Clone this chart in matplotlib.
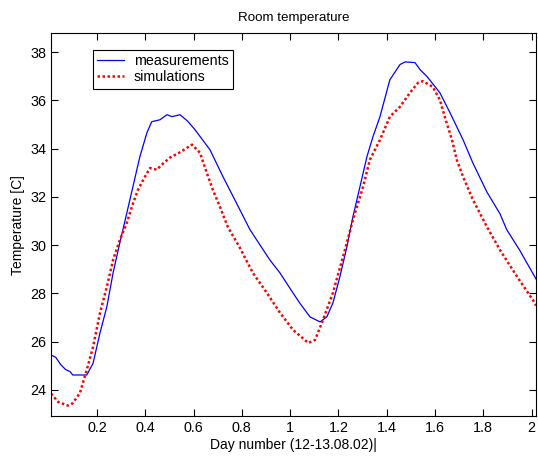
import matplotlib
matplotlib.use("Agg")
import matplotlib.pyplot as plt
from matplotlib.ticker import FormatStrFormatter

meas_day = [0.01, 0.03, 0.05, 0.07, 0.09, 0.10, 0.158, 0.184, 0.213, 0.241, 0.267, 0.295,
            0.324, 0.349, 0.378, 0.407, 0.427, 0.461, 0.49, 0.511, 0.544, 0.575, 0.606, 0.668,
            0.722, 0.765, 0.834, 0.916, 0.958, 1.012, 1.04, 1.082, 1.124, 1.152, 1.177, 1.206,
            1.235, 1.26, 1.289, 1.318, 1.343, 1.372, 1.413, 1.455, 1.476, 1.517, 1.538, 1.567,
            1.62, 1.662, 1.716, 1.757, 1.815, 1.869, 1.897, 1.95, 2.018]
meas_temp = [25.45, 25.35, 25.05, 24.85, 24.75, 24.62, 24.62, 25.1, 26.37, 27.44, 28.85, 30.1,
             31.34, 32.42, 33.67, 34.66, 35.12, 35.2, 35.41, 35.33, 35.41, 35.15, 34.79, 33.96,
             32.84, 32.0, 30.64, 29.39, 28.85, 28.02, 27.6, 27.03, 26.82, 27.03, 27.6, 28.69,
             29.93, 31.18, 32.42, 33.67, 34.5, 35.33, 36.86, 37.49, 37.6, 37.57, 37.28, 36.99,
             36.32, 35.49, 34.37, 33.4, 32.2, 31.3, 30.64, 29.8, 28.6]

# simulated room temperature
sim_day = [0.01, 0.04, 0.08, 0.10, 0.13, 0.158, 0.184, 0.213, 0.241, 0.267, 0.295, 0.324,
           0.345, 0.37, 0.399, 0.42, 0.448, 0.469, 0.502, 0.540, 0.594, 0.627, 0.655, 0.68,
           0.709, 0.742, 0.79, 0.846, 0.904, 0.958, 1.012, 1.075, 1.103, 1.136, 1.177, 1.219,
           1.26, 1.302, 1.33, 1.372, 1.413, 1.455, 1.496, 1.53, 1.55, 1.59, 1.62, 1.64, 1.67,
           1.69, 1.716, 1.757, 1.815, 1.869, 1.94, 2.005, 2.018]
sim_temp = [23.85, 23.5, 23.35, 23.45, 23.88, 24.83, 25.78, 27.2, 28.27, 29.39, 30.22, 30.93,
            31.6, 32.3, 32.84, 33.2, 33.13, 33.34, 33.63, 33.83, 34.17, 33.83, 33.0, 32.3,
            31.6, 30.76, 29.93, 28.85, 28.02, 27.2, 26.49, 25.95, 26.07, 26.9, 28.02, 29.52,
            31.05, 32.42, 33.54, 34.37, 35.33, 35.74, 36.32, 36.74, 36.8, 36.57, 36.03, 35.33, 34.37,
            33.54, 32.84, 31.88, 30.76, 29.8, 28.69, 27.73, 27.5]

x_ticks = [0.2, 0.4, 0.6, 0.8, 1.0, 1.2, 1.4, 1.6, 1.8, 2.0]
y_ticks = [24, 26, 28, 30, 32, 34, 36, 38]

plt.rcParams["font.family"] = ["Liberation Sans", "DejaVu Sans"]

fig = plt.figure(figsize=(5.38, 4.59), dpi=100)
ax = fig.add_axes([0.0948, 0.0937, 0.9015, 0.834])

ax.plot(meas_day, meas_temp, color="#0000ff", lw=0.9, label="measurements")
ax.plot(sim_day, sim_temp, color="#ff0000", lw=1.8, ls=(0, (1, 1)), label="simulations")

ax.set_xlim(0.01, 2.018)
ax.set_ylim(22.92, 38.79)
ax.set_xticks(x_ticks)
ax.set_yticks(y_ticks)
ax.xaxis.set_major_formatter(FormatStrFormatter("%g"))
ax.tick_params(direction="in", top=True, right=True, length=5, width=0.8, labelsize=10.4)
for s in ax.spines.values():
    s.set_linewidth(0.8)

ax.set_title("Room temperature", fontsize=9.6, pad=9)
ax.set_xlabel("Day number (12-13.08.02)|", fontsize=10, labelpad=2)
ax.set_ylabel("Temperature [C]", fontsize=10, labelpad=4)

leg = ax.legend(loc="upper left", bbox_to_anchor=(0.0866, 0.956), borderaxespad=0,
                fancybox=False, edgecolor="black", framealpha=1, fontsize=10.3,
                handlelength=1.9, handletextpad=0.65, borderpad=0.3, labelspacing=0.15)
leg.get_frame().set_linewidth(0.8)

fig.savefig("out.png", dpi=100)
